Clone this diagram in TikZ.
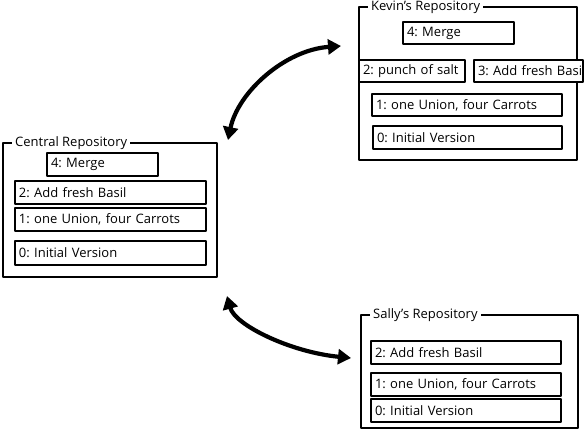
\documentclass[tikz,border=0pt]{standalone}
\usepackage{fontspec}
\setmainfont{Open Sans}
\usetikzlibrary{arrows.meta}
\frenchspacing

\tikzset{
  x=1pt, y=-1pt,
  textfont/.style={font=\fontsize{13}{15}\selectfont},
  commit/.style={draw, line width=2.8pt, fill=white, anchor=north west,
    align=left, inner xsep=4pt, inner ysep=0pt, outer sep=0pt,
    line join=round, textfont},
  repo/.style={draw, line width=2pt, anchor=north west, inner sep=0pt,
    outer sep=0pt, line join=round},
  repotitle/.style={fill=white, anchor=west, inner xsep=3pt, inner ysep=1pt,
    textfont},
  sync/.style={line width=4.2pt,
    {Triangle[length=13pt,width=15pt]}-{Triangle[length=13pt,width=15pt]}},
}

% \commitbox{name}{x1}{y1}{x2}{y2}{text}
\newcommand\commitbox[6]{%
  \node[commit, text width=\dimexpr #4pt-#2pt-8pt\relax,
        minimum height=\dimexpr #5pt-#3pt\relax] (#1) at (#2,#3)
        {\mbox{#6}};}
% \repobox{name}{x1}{y1}{x2}{y2}{title}
\newcommand\repobox[6]{%
  \node[repo, minimum width=\dimexpr #4pt-#2pt\relax,
        minimum height=\dimexpr #5pt-#3pt\relax] (#1) at (#2,#3) {};
  \node[repotitle] (#1-title) at (#2+9,#3) {#6};}

\begin{document}
\begin{tikzpicture}
  \useasboundingbox[fill=white] (0,0) rectangle (587,435);

  % Kevin
  \repobox{kevin}{359}{7}{577}{160}{Kevin's Repository}
  \commitbox{k4}{403}{22}{514}{44}{4: Merge}
  \commitbox{k2}{359}{60}{465}{82}{2: punch of salt}
  \commitbox{k3}{474}{60}{583}{82}{3: Add fresh Basi}
  \commitbox{k1}{372}{94}{562}{116}{1: one Union, four Carrots}
  \commitbox{k0}{373}{126}{562}{149}{0: Initial Version}

  % Central
  \repobox{central}{3}{143}{217}{277}{Central Repository}
  \commitbox{c4}{47}{153}{158}{176}{4: Merge}
  \commitbox{c2}{15}{181}{206}{204}{2: Add fresh Basil}
  \commitbox{c1}{15}{208}{206}{231}{1: one Union, four Carrots}
  \commitbox{c0}{15}{241}{206}{265}{0: Initial Version}

  % Sally
  \repobox{sally}{361}{315}{578}{428}{Sally's Repository}
  \commitbox{s2}{371}{341}{561}{364}{2: Add fresh Basil}
  \commitbox{s1}{371}{373}{561}{396}{1: one Union, four Carrots}
  \commitbox{s0}{371}{399}{561}{422}{0: Initial Version}

  % sync arrows
  \coordinate (ck) at (228,140);
  \coordinate (kc) at (341,46);
  \coordinate (cs) at (227,296);
  \coordinate (sc) at (351,358);
  \draw[sync] (ck) .. controls (238,92) and (285,50) .. (kc);
  \draw[sync] (cs) .. controls (235,325) and (290,352) .. (sc);
\end{tikzpicture}
\end{document}
